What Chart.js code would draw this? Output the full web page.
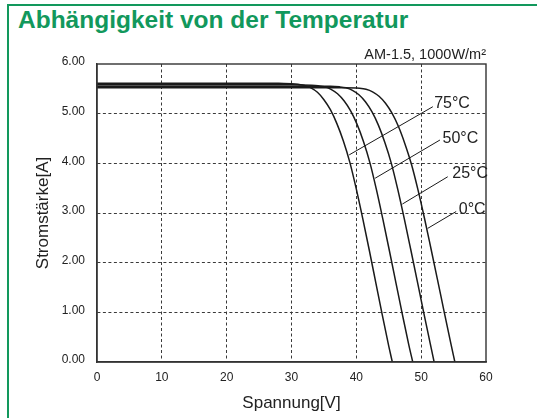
<!DOCTYPE html>
<html lang="de">
<head>
<meta charset="utf-8">
<title>Abhängigkeit von der Temperatur</title>
<script src="https://cdn.jsdelivr.net/npm/chart.js@4.4.1/dist/chart.umd.min.js"></script>
<style>
    html, body { margin: 0; padding: 0; background: #fff; overflow: hidden; }
    body { width: 537px; height: 418px; position: relative; }
    .frame {
        position: absolute; left: 7px; top: 4px; width: 600px; height: 500px;
        border: 2.5px solid #12985c;
    }
    h1 {
        position: absolute; left: 18px; top: 8px; margin: 0;
        font: bold 24.5px/24px "Liberation Sans", Arial, sans-serif;
        color: #12985c;
    }
    #chart { position: absolute; left: 0; top: 0; }
</style>
</head>
<body>
<div class="frame"></div>
<h1>Abhängigkeit von der Temperatur</h1>
<canvas id="chart" width="537" height="418"></canvas>
<script>
// I-V curves: voltage [V] and current [A]
const temps = ['75°C', '50°C', '25°C', '0°C'];

const volt75 = [0, 10, 20, 28, 30, 31, 32, 33, 34, 35, 36, 37, 38, 39, 40, 41, 42, 43, 44, 45, 45.55];
const amp75  = [5.61, 5.61, 5.61, 5.61, 5.60, 5.59, 5.57, 5.52, 5.43, 5.28, 5.08, 4.80, 4.45, 4.02, 3.48, 2.88, 2.25, 1.60, 0.95, 0.32, 0];

const volt50 = [0, 10, 20, 30, 33.1, 34.1, 35.1, 36.1, 37.1, 38.1, 39.1, 40.1, 41.1, 42.1, 43.1, 44.1, 45.1, 46.1, 47.1, 48.1, 48.7];
const amp50  = [5.58, 5.58, 5.58, 5.58, 5.57, 5.56, 5.54, 5.49, 5.40, 5.26, 5.06, 4.79, 4.44, 4.01, 3.47, 2.87, 2.24, 1.60, 0.96, 0.34, 0];

const volt25 = [0, 10, 20, 30, 36, 37.4, 38.4, 39.4, 40.4, 41.4, 42.4, 43.4, 44.4, 45.4, 46.4, 47.4, 48.4, 49.4, 50.4, 51.4, 52.0];
const amp25  = [5.55, 5.55, 5.55, 5.55, 5.55, 5.54, 5.52, 5.47, 5.38, 5.24, 5.04, 4.77, 4.42, 4.00, 3.47, 2.88, 2.26, 1.63, 0.99, 0.37, 0];

const volt0  = [0, 10, 20, 30, 38, 40.5, 41.5, 42.5, 43.5, 44.5, 45.5, 46.5, 47.5, 48.5, 49.5, 50.5, 51.5, 52.5, 53.5, 54.5, 55.2];
const amp0   = [5.52, 5.52, 5.52, 5.52, 5.52, 5.51, 5.49, 5.44, 5.35, 5.21, 5.01, 4.74, 4.39, 3.98, 3.47, 2.90, 2.29, 1.67, 1.04, 0.42, 0];

// leader lines from curve to label, [V, A] start and end
const leaderStartV = [38.9, 42.9, 47.1, 51.0];
const leaderStartI = [4.17, 3.70, 3.18, 2.69];
const leaderEndV   = [51.8, 52.9, 54.1, 55.4];
const leaderEndI   = [5.14, 4.47, 3.73, 3.03];
// label anchor (left, middle)
const labelV = [52.0, 53.3, 54.8, 55.8];
const labelI = [5.20, 4.50, 3.80, 3.06];

const conditionText = 'AM-1.5, 1000W/m²';

const curves = [[volt75, amp75], [volt50, amp50], [volt25, amp25], [volt0, amp0]];
const toPoints = (xs, ys) => xs.map((v, i) => ({ x: v, y: ys[i] }));

const datasets = curves.map(([v, a], i) => ({
    label: temps[i],
    data: toPoints(v, a),
    borderColor: '#1a1a1a',
    borderWidth: 1.5,
    pointRadius: 0,
    cubicInterpolationMode: 'monotone',
    fill: false
}));

temps.forEach((t, i) => {
    datasets.push({
        label: t + ' leader',
        data: [{ x: leaderStartV[i], y: leaderStartI[i] }, { x: leaderEndV[i], y: leaderEndI[i] }],
        borderColor: '#1a1a1a',
        borderWidth: 1,
        pointRadius: 0,
        tension: 0
    });
});

const innerGrid = edgeValues => ctx =>
    edgeValues.includes(ctx.tick.value) ? 'rgba(0,0,0,0)' : '#3a3a3a';

const curveLabels = {
    id: 'curveLabels',
    afterDatasetsDraw(chart) {
        const { ctx, chartArea, scales: { x, y } } = chart;
        ctx.save();
        ctx.strokeStyle = '#333';
        ctx.lineWidth = 1.4;
        ctx.strokeRect(chartArea.left, chartArea.top, chartArea.width, chartArea.height);

        ctx.fillStyle = '#222';
        ctx.textBaseline = 'middle';
        ctx.textAlign = 'left';
        ctx.font = '16px "Liberation Sans Narrow", "Liberation Sans", Arial, sans-serif';
        temps.forEach((t, i) => {
            ctx.fillText(t, x.getPixelForValue(labelV[i]), y.getPixelForValue(labelI[i]));
        });

        ctx.textAlign = 'right';
        ctx.font = '14.5px "Liberation Sans", Arial, sans-serif';
        ctx.fillText(conditionText, chartArea.right, 55);
        ctx.restore();
    }
};

const tickFont = { family: '"Liberation Sans Narrow", "Liberation Sans", Arial, sans-serif', size: 12 };
const titleFont = { family: '"Liberation Sans", Arial, sans-serif', size: 17 };

new Chart(document.getElementById('chart').getContext('2d'), {
    type: 'line',
    data: { datasets },
    options: {
        responsive: false,
        animation: false,
        layout: { padding: { left: 0, top: 64, right: 51, bottom: 0 } },
        plugins: {
            legend: { display: false },
            tooltip: { enabled: false }
        },
        scales: {
            x: {
                type: 'linear',
                min: 0,
                max: 60,
                afterFit: s => { s.height = 56; },
                grid: { color: innerGrid([0, 60]), lineWidth: 1, drawTicks: false },
                border: { display: true, color: '#333', width: 1.4, dash: [3, 2.5] },
                ticks: { stepSize: 10, padding: 8, color: '#222', font: tickFont },
                title: { display: true, text: 'Spannung[V]', color: '#222', font: titleFont, padding: { top: 0, bottom: 4 } }
            },
            y: {
                min: 0,
                max: 6,
                afterFit: s => { s.width = 97; },
                grid: { color: innerGrid([0, 6]), lineWidth: 1, drawTicks: false },
                border: { display: true, color: '#333', width: 1.4, dash: [3, 2.5] },
                ticks: {
                    stepSize: 1,
                    padding: 12,
                    labelOffset: -2,
                    color: '#222',
                    font: tickFont,
                    callback: v => v.toFixed(2)
                },
                title: { display: true, text: 'Stromstärke[A]', color: '#222', font: titleFont, padding: { top: 33, bottom: 0 } }
            }
        }
    },
    plugins: [curveLabels]
});
</script>
</body>
</html>
